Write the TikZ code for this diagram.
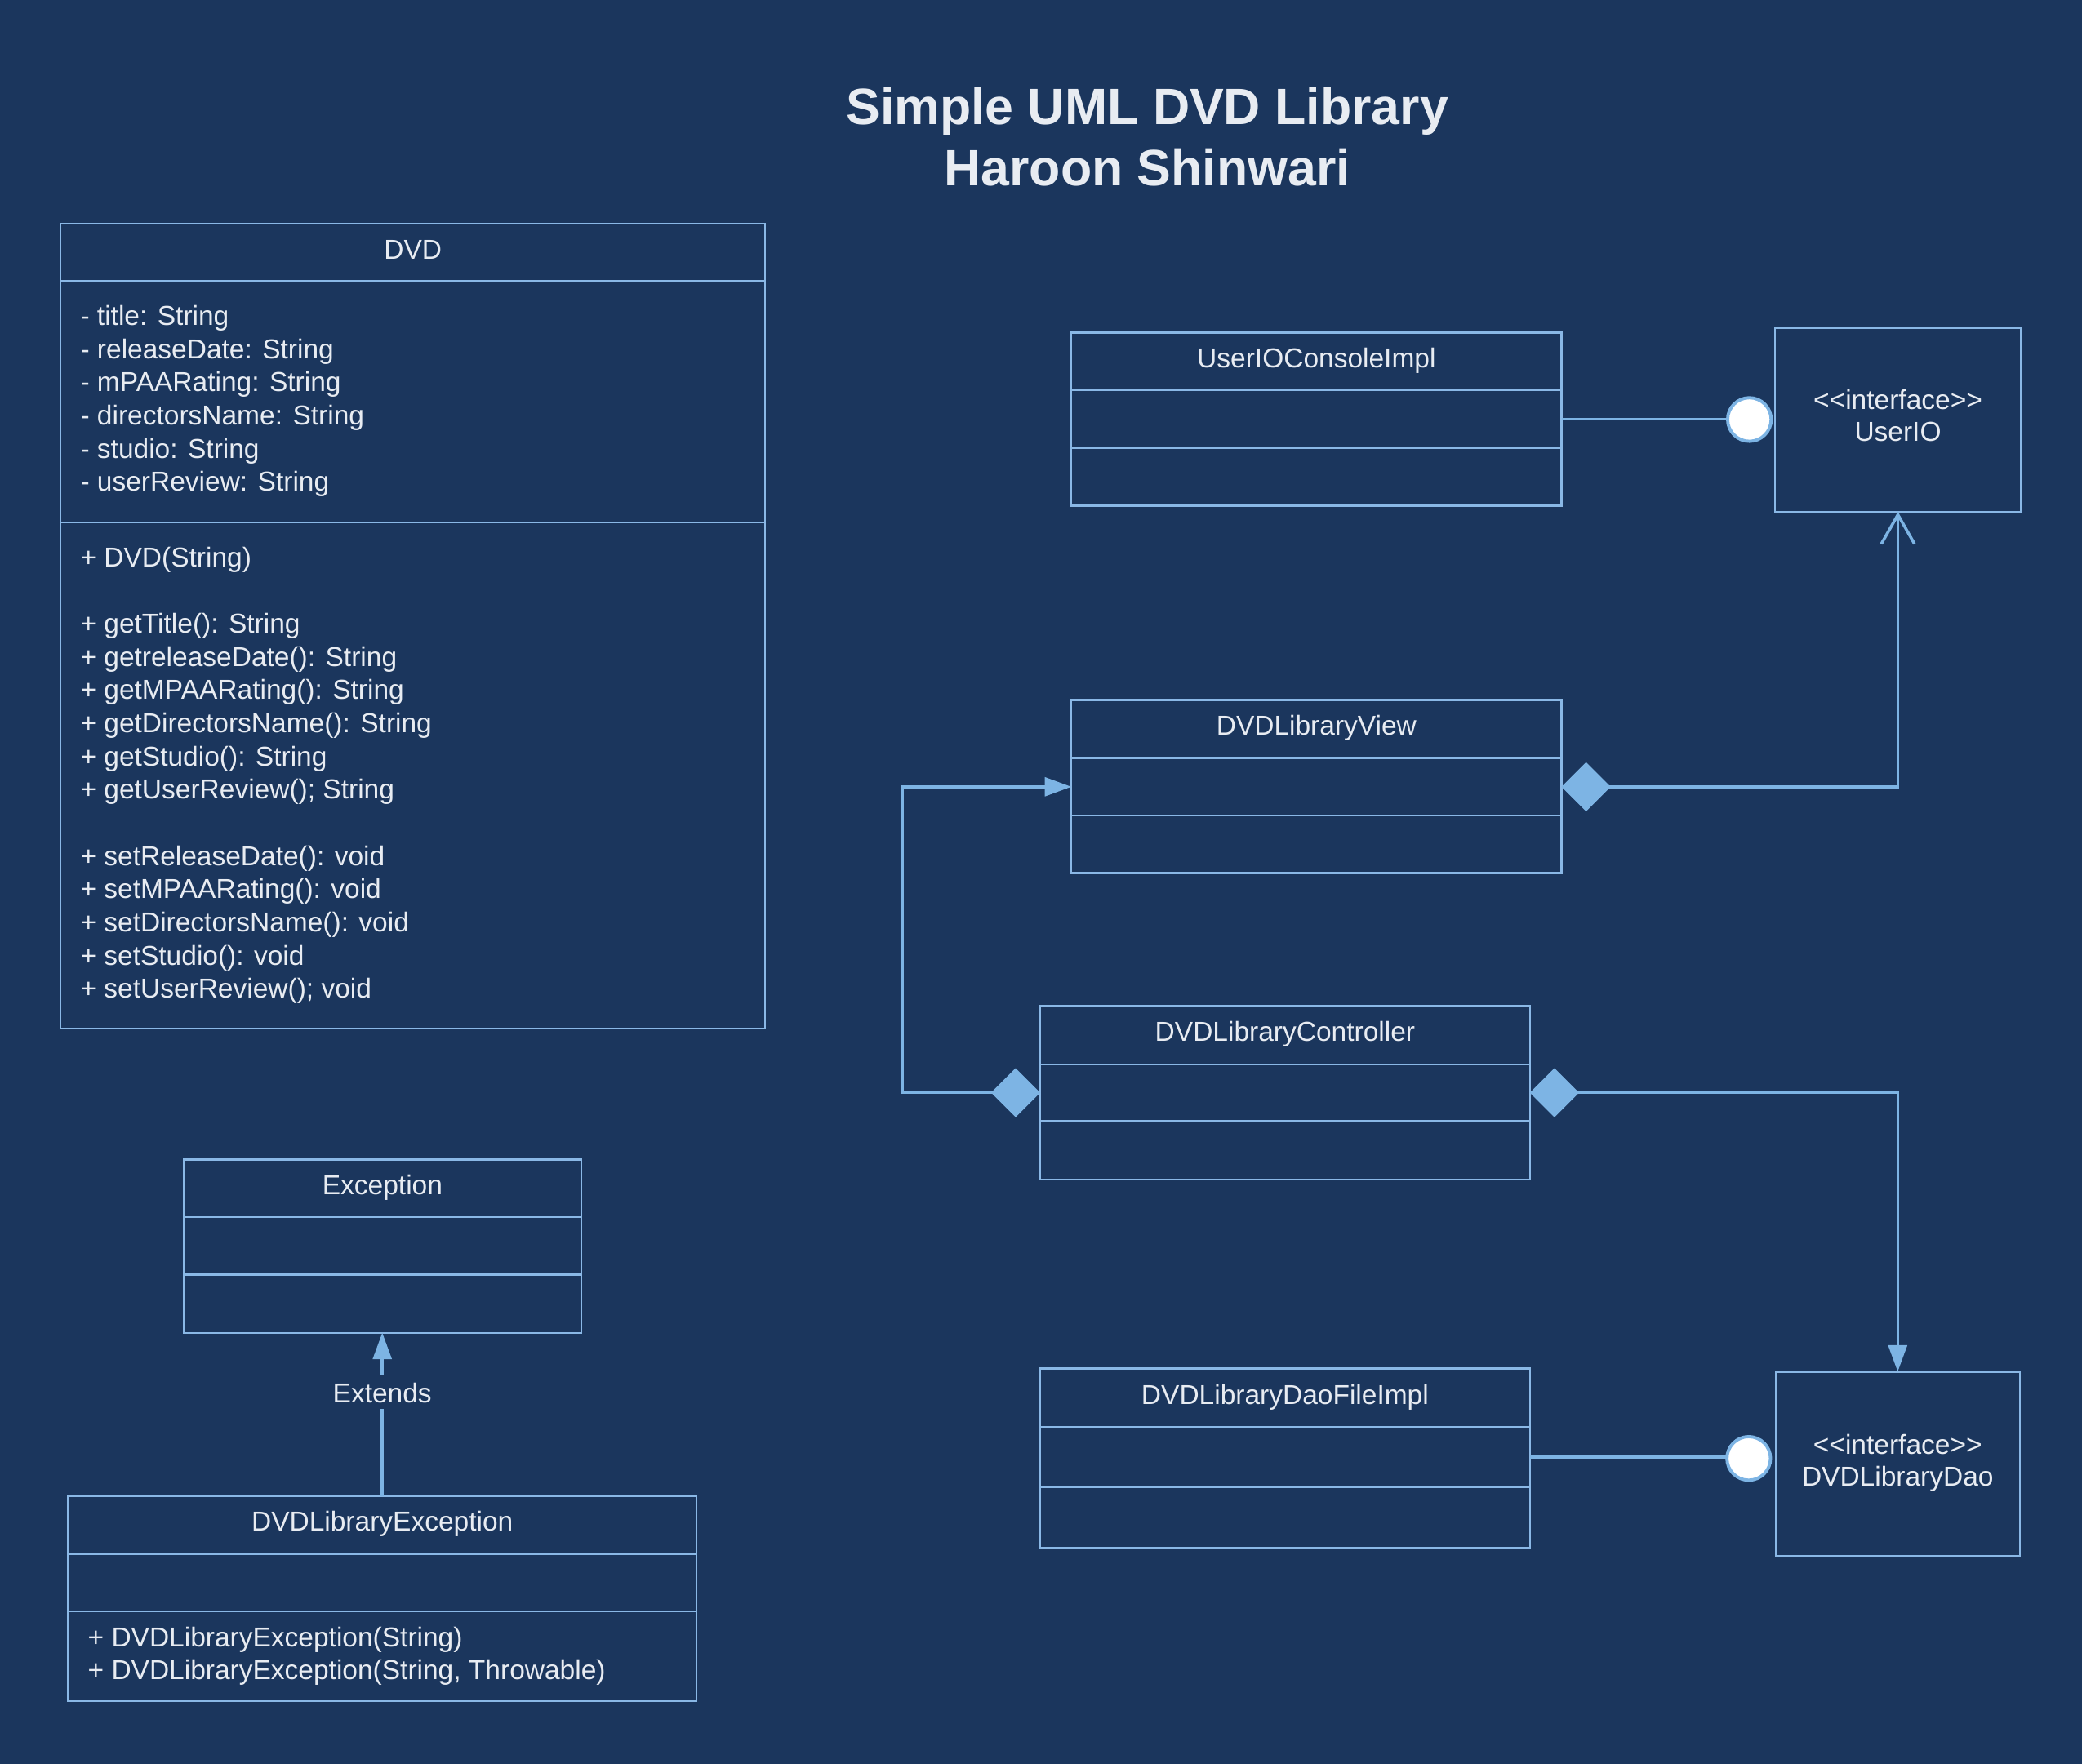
\documentclass[tikz,border=0pt]{standalone}
\usepackage{fontspec}
\setmainfont{Liberation Sans}
\usetikzlibrary{arrows.meta,calc}
\definecolor{bg}{RGB}{27,54,93}
\definecolor{boxc}{RGB}{138,184,230}
\definecolor{linec}{RGB}{125,180,228}
\definecolor{txt}{RGB}{232,236,242}
\newcommand\stereo[1]{<\kern0pt<#1>\kern0pt>}
\tikzset{
  dmd/.tip={Diamond[length=18.5pt,width=18.5pt]},
  trg/.tip={Triangle[length=10pt,width=7pt]},
  opn/.tip={Straight Barb[length=11pt,width=12.5pt]}
}
\begin{document}
\begin{tikzpicture}[x=0.5pt,y=-0.5pt,
  comp/.style={draw=boxc, line width=0.7pt, inner sep=0pt, outer sep=0pt, anchor=north west,
    text=txt, font=\fontsize{10.3pt}{12.5pt}\selectfont, text height=7.3pt, text depth=2.6pt},
  txtline/.style={anchor=base west, inner sep=0pt, text=txt, font=\fontsize{10.3pt}{12.5pt}\selectfont},
  ctxt/.style={anchor=base, inner sep=0pt, text=txt, font=\fontsize{10.3pt}{12.5pt}\selectfont},
  ttl/.style={anchor=base, inner sep=0pt, text=txt, font=\fontsize{19.25pt}{21pt}\selectfont\bfseries},
  conn/.style={draw=linec, line width=1.1pt},
  lolli/.style={circle, draw=linec, fill=white, line width=1.2pt, minimum size=16.4pt, inner sep=0pt, outer sep=0pt}
  ]
\useasboundingbox (0,0) rectangle (1568,1328.2);
\fill[bg] (-10,-10) rectangle (1578,1338);

% title
\node[ttl] (title1) at (864,93.6) {Simple UML DVD Library};
\node[ttl] (title2) at (864,139.7) {Haroon Shinwari};

% DVD class
\node[comp, minimum width=265.25pt, minimum height=21.6pt] (dvd-h) at (45.7,168.7) {DVD};
\node[comp, minimum width=265.25pt, minimum height=90.8pt] (dvd-a) at (45.7,211.9) {};
\node[comp, minimum width=265.25pt, minimum height=190.65pt] (dvd-m) at (45.7,393.5) {};
\foreach \k/\t in {0/{- title: String}, 1/{- releaseDate: String}, 2/{- mPAARating: String},
  3/{- directorsName: String}, 4/{- studio: String}, 5/{- userReview: String}}
  \node[txtline] (dvda-\k) at (60.2,245.1+25*\k) {\t};
\foreach \k/\t in {0/{+ DVD(String)}, 2/{+ getTitle(): String}, 3/{+ getreleaseDate(): String},
  4/{+ getMPAARating(): String}, 5/{+ getDirectorsName(): String}, 6/{+ getStudio(): String},
  7/{+ getUserReview(); String}, 9/{+ setReleaseDate(): void}, 10/{+ setMPAARating(): void},
  11/{+ setDirectorsName(): void}, 12/{+ setStudio(): void}, 13/{+ setUserReview(); void}}
  \node[txtline] (dvdm-\k) at (60.2,426.9+25*\k) {\t};

% UserIOConsoleImpl
\node[comp, minimum width=184.55pt, minimum height=21.75pt] (uci-h) at (806.9,250.6) {UserIOConsoleImpl};
\node[comp, minimum width=184.55pt, minimum height=21.75pt] (uci-a) at (806.9,294.1) {};
\node[comp, minimum width=184.55pt, minimum height=21.7pt] (uci-m) at (806.9,337.6) {};

% UserIO interface
\node[comp, minimum width=92.35pt, minimum height=69.25pt] (uio) at (1337,247) {};
\node[ctxt] (uio-s) at (uio.center |- 0,308.5) {\stereo{interface}};
\node[ctxt] (uio-n) at (uio.center |- 0,332.5) {UserIO};

% DVDLibraryView
\node[comp, minimum width=184.55pt, minimum height=21.85pt] (view-h) at (806.9,527.3) {DVDLibraryView};
\node[comp, minimum width=184.55pt, minimum height=21.65pt] (view-a) at (806.9,571) {};
\node[comp, minimum width=184.55pt, minimum height=21.7pt] (view-m) at (806.9,614.3) {};

% DVDLibraryController
\node[comp, minimum width=184.4pt, minimum height=21.85pt] (ctrl-h) at (783.4,757.9) {DVDLibraryController};
\node[comp, minimum width=184.4pt, minimum height=21.5pt] (ctrl-a) at (783.4,801.6) {};
\node[comp, minimum width=184.4pt, minimum height=21.9pt] (ctrl-m) at (783.4,844.6) {};

% DVDLibraryDaoFileImpl
\node[comp, minimum width=184.4pt, minimum height=22.05pt] (dfi-h) at (783.4,1030.9) {DVDLibraryDaoFileImpl};
\node[comp, minimum width=184.4pt, minimum height=22.65pt] (dfi-a) at (783.4,1075) {};
\node[comp, minimum width=184.4pt, minimum height=22.95pt] (dfi-m) at (783.4,1120.3) {};

% DVDLibraryDao interface
\node[comp, minimum width=91.9pt, minimum height=69.45pt] (dao) at (1337.3,1033.3) {};
\node[ctxt] (dao-s) at (dao.center |- 0,1095.3) {\stereo{interface}};
\node[ctxt] (dao-n) at (dao.center |- 0,1119.7) {DVDLibraryDao};

% Exception
\node[comp, minimum width=149.85pt, minimum height=21.55pt] (exc-h) at (138.2,873.5) {Exception};
\node[comp, minimum width=149.85pt, minimum height=21.8pt] (exc-a) at (138.2,916.6) {};
\node[comp, minimum width=149.85pt, minimum height=21.85pt] (exc-m) at (138.2,960.2) {};

% DVDLibraryException
\node[comp, minimum width=236.5pt, minimum height=21.8pt] (dex-h) at (51.4,1126.9) {DVDLibraryException};
\node[comp, minimum width=236.5pt, minimum height=21.55pt] (dex-a) at (51.4,1170.5) {};
\node[comp, minimum width=236.5pt, minimum height=33.75pt] (dex-m) at (51.4,1213.6) {};
\node[txtline] (dexm-1) at (65.8,1240.5) {+ DVDLibraryException(String)};
\node[txtline] (dexm-2) at (65.8,1265.2) {+ DVDLibraryException(String, Throwable)};

% lollipops
\node[lolli] (lp1) at (1317.5,316) {};
\node[lolli] (lp2) at (1317,1098.6) {};
\draw[conn] (uci-a.east) -- (uci-a.east -| lp1.west);
\draw[conn] (dfi-a.east) -- (dfi-a.east -| lp2.west);

% compositions
\draw[conn, dmd-opn] (view-a.east) -| (uio.south);
\draw[conn, dmd-trg] (ctrl-a.west) -- ++(-103.8,0) |- (view-a.west);
\draw[conn, dmd-trg] (ctrl-a.east) -| (dao.north);

% extends
\draw[conn, -trg] (dex-h.north) -- (dex-h.north |- exc-m.south);
\node[fill=bg, text=txt, font=\fontsize{10.3pt}{12.5pt}\selectfont, inner xsep=1pt, inner ysep=2.5pt,
  text height=7.5pt, text depth=0pt] (ext) at (dex-h.north |- 0,1048.9) {Extends};
\end{tikzpicture}
\end{document}
